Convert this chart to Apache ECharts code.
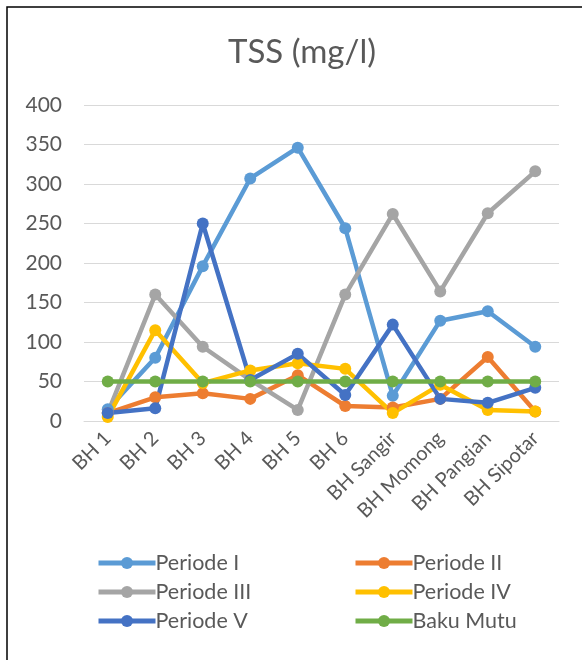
<!DOCTYPE html>
<html>
<head>
<meta charset="utf-8">
<script src="https://cdn.jsdelivr.net/npm/echarts@6/dist/echarts.min.js"></script>
<style>
html,body{margin:0;padding:0;background:#fff;}
#c{width:582px;height:660px;}
</style>
</head>
<body>
<div id="c"></div>
<script>
var categories = ['BH 1','BH 2','BH 3','BH 4','BH 5','BH 6','BH Sangir','BH Momong','BH Pangian','BH Sipotar'];
var periodeI   = [15, 80, 196, 307, 346, 244, 32, 127, 139, 94];
var periodeII  = [10, 30, 35, 28, 58, 19, 17, 28, 81, 12];
var periodeIII = [10, 160, 94, 52, 14, 160, 262, 164, 263, 316];
var periodeIV  = [5, 115, 48, 64, 73, 66, 10, 46, 14, 12];
var periodeV   = [10, 16, 250, 52, 85, 33, 122, 28, 23, 42];
var bakuMutu   = [50, 50, 50, 50, 50, 50, 50, 50, 50, 50];
var yTicks = [0, 50, 100, 150, 200, 250, 300, 350, 400];

var font = 'Lato, "Noto Sans", sans-serif';
function mk(name, data, color) {
  return {
    name: name, type: 'line', data: data,
    symbol: 'circle', symbolSize: 12,
    lineStyle: {width: 4.5, color: color},
    itemStyle: {color: color},
    emphasis: {disabled: true},
    animation: false
  };
}
var legendCommon = {
  orient: 'vertical', top: 547, itemWidth: 57, itemHeight: 15, itemGap: 7,
  lineStyle: {width: 5},
  textStyle: {fontFamily: font, fontSize: 21.5, color: '#595959', lineHeight: 21, padding: [0,0,0,-5]}
};
var chart = echarts.init(document.getElementById('c'), null, {renderer: 'canvas'});
chart.setOption({
  backgroundColor: '#fff',
  animation: false,
  title: {
    text: 'TSS (mg/l)', left: 297, top: 31, textAlign: 'center',
    textStyle: {fontFamily: font, fontSize: 33, fontWeight: 'normal', color: '#595959'}
  },
  graphic: [{
    type: 'rect', shape: {x: 7, y: 7, width: 600, height: 700},
    style: {fill: 'none', stroke: '#000', lineWidth: 1.5}, silent: true
  }],
  legend: [
    Object.assign({data: ['Periode I', 'Periode III', 'Periode V'], left: 91}, legendCommon),
    Object.assign({data: ['Periode II', 'Periode IV', 'Baku Mutu'], left: 348}, legendCommon)
  ],
  grid: {left: 84, right: 23, top: 105, bottom: 239, containLabel: false},
  xAxis: {
    type: 'category', data: categories, boundaryGap: true,
    axisLine: {show: true, lineStyle: {color: '#d9d9d9', width: 1}},
    axisTick: {show: false},
    axisLabel: {rotate: 45, interval: 0, margin: 14, fontFamily: font, fontSize: 20, color: '#595959'}
  },
  yAxis: {
    type: 'value', min: 0, max: 400, interval: 50,
    axisLine: {show: false}, axisTick: {show: false},
    splitLine: {lineStyle: {color: '#d9d9d9', width: 1}},
    axisLabel: {margin: 22, fontFamily: font, fontSize: 21, color: '#595959',
      formatter: function (v) { return yTicks.indexOf(v) >= 0 ? String(v) : ''; }}
  },
  series: [
    mk('Periode I', periodeI, '#5b9bd5'),
    mk('Periode II', periodeII, '#ed7d31'),
    mk('Periode III', periodeIII, '#a5a5a5'),
    mk('Periode IV', periodeIV, '#ffc000'),
    mk('Periode V', periodeV, '#4472c4'),
    mk('Baku Mutu', bakuMutu, '#70ad47')
  ]
});
</script>
</body>
</html>
